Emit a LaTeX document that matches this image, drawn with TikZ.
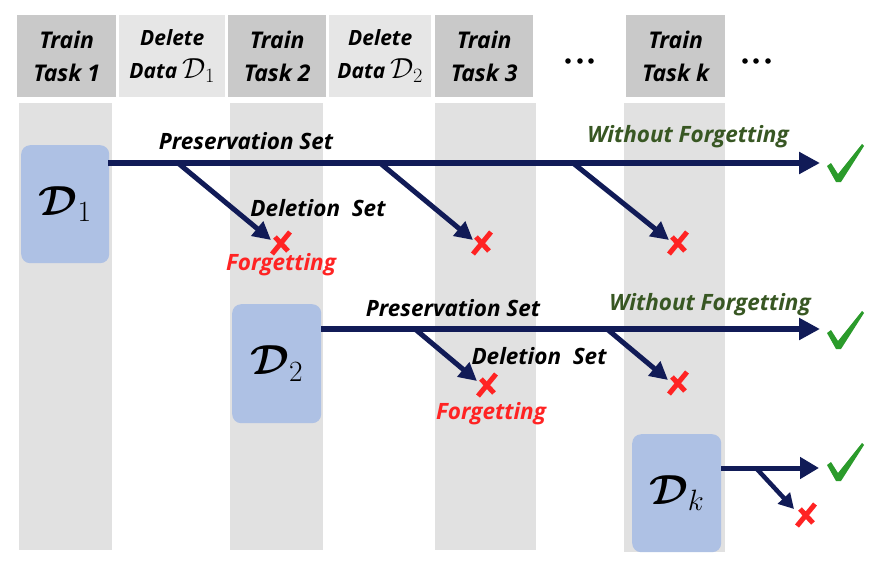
\RequirePackage{fix-cm}
\documentclass[tikz,border=0pt]{standalone}
\usepackage{fontspec}
\setmainfont{Open Sans}
\usetikzlibrary{arrows.meta}
\definecolor{hdark}{HTML}{C9C9C9}
\definecolor{hlight}{HTML}{E6E6E6}
\definecolor{colgray}{HTML}{E1E1E1}
\definecolor{dboxc}{HTML}{AEC1E4}
\definecolor{navy}{HTML}{111B57}
\definecolor{wfgreen}{HTML}{385723}
\definecolor{fred}{HTML}{FF2323}
\definecolor{ckgreen}{HTML}{2B9B2B}
\newcommand\hdrD[1]{{\fontsize{29}{33}\selectfont$\mathcal{D}_{#1}$}}
\newcommand\bigD[1]{$\mbox{\boldmath$\mathcal{D}$}_{#1}$}
\begin{document}
\begin{tikzpicture}[x=1pt,y=-1pt,
  hdrbox/.style={fill=#1, inner sep=0pt, anchor=north west, align=center},
  trainfont/.style={font=\bfseries\itshape\fontsize{23}{33}\selectfont},
  delfont/.style={font=\bfseries\itshape\fontsize{21}{33}\selectfont},
  colbox/.style={fill=colgray, inner sep=0pt, anchor=north west, minimum height=447pt},
  databox/.style={fill=dboxc, rounded corners=9pt, inner sep=0pt, anchor=north west, minimum width=88pt, minimum height=118pt, font=\fontsize{42}{44}\selectfont},
  lbl/.style={font=\bfseries\itshape\fontsize{22.5}{26}\selectfont, inner sep=0pt},
  mainarrow/.style={draw=navy, line width=5.5pt, -{Triangle[length=21pt,width=21pt]}},
  brarrow/.style={draw=navy, line width=5pt, -{Triangle[length=18pt,width=18pt]}},
  smallbr/.style={draw=navy, line width=4.5pt, -{Triangle[length=15pt,width=16pt]}},
  xm/.style={minimum width=34pt, minimum height=34pt, inner sep=0pt,
    path picture={\draw[fred,line width=5pt,shift={(path picture bounding box.center)}]
      (9pt,11pt) -- (-9pt,-11pt) (-6pt,6pt) -- (7pt,-8pt);}},
  ck/.style={minimum width=44pt, minimum height=44pt, inner sep=0pt,
    path picture={\fill[ckgreen,shift={(path picture bounding box.center)}]
      (-18pt,-3pt) -- (-14pt,0pt) -- (-7pt,-11pt) -- (17pt,19pt) -- (19pt,17pt) -- (-4pt,-19pt) -- (-9pt,-19pt) -- cycle;}},
  dots/.style={fill=black}
]
\fill[white] (0,0) rectangle (878,566);
\useasboundingbox (0,0) rectangle (878,566);

% columns
\node[colbox, minimum width=93pt] (c1) at (19,103) {};
\node[colbox, minimum width=93pt] (c2) at (230,103) {};
\node[colbox, minimum width=101pt] (c3) at (435,103) {};
\node[colbox, minimum width=101pt, minimum height=449pt] (c4) at (624,103) {};

% header
\node[hdrbox=hdark, trainfont, minimum width=99pt, minimum height=82pt] (h1) at (17,15) {Train\\Task 1};
\node[hdrbox=hlight, delfont, minimum width=106pt, minimum height=82pt] (h2) at (119,15) {Delete\\Data \hdrD{1}};
\node[hdrbox=hdark, trainfont, minimum width=98pt, minimum height=82pt] (h3) at (228,15) {Train\\Task 2};
\node[hdrbox=hlight, delfont, minimum width=102pt, minimum height=82pt] (h4) at (329,15) {Delete\\Data \hdrD{2}};
\node[hdrbox=hdark, trainfont, minimum width=98pt, minimum height=82pt] (h5) at (435,15) {Train\\Task 3};
\node[hdrbox=hdark, trainfont, minimum width=99pt, minimum height=82pt] (h6) at (626,15) {Train\\Task k};
\foreach \x in {568,580,591,745,756,768} \fill[dots] (\x,61) circle (2.8);

% data boxes
\node[databox] (d1) at (21,145) {\bigD{1}};
\node[databox, minimum width=89pt, minimum height=119pt] (d2) at (232,304) {\bigD{2}};
\node[databox, minimum width=89pt, minimum height=118pt] (dk) at (632,434) {\bigD{k}};

% row 1
\coordinate (a1s) at (108,163);
\coordinate (a1e) at (820,163);
\draw[mainarrow] (a1s) -- (a1e);
\coordinate (b11) at (178,163); \coordinate (t11) at (271,240);
\coordinate (b12) at (380,163); \coordinate (t12) at (473,240);
\coordinate (b13) at (573,163); \coordinate (t13) at (669,240);
\draw[brarrow] (b11) -- (t11);
\draw[brarrow] (b12) -- (t12);
\draw[brarrow] (b13) -- (t13);
\node[xm] (x11) at (281,243) {};
\node[xm] (x12) at (482,243) {};
\node[xm] (x13) at (678,243) {};
\node[ck] (k1) at (845,163) {};
\node[lbl] (p1) at (246,141) {Preservation Set};
\node[lbl, text=wfgreen] (w1) at (688,137) {Without Forgetting};
\node[lbl] (del1) at (318,208) {Deletion\ \ Set};
\node[lbl, text=fred] (f1) at (281,265) {Forgetting};

% row 2
\coordinate (a2s) at (321,329);
\coordinate (a2e) at (820,329);
\draw[mainarrow] (a2s) -- (a2e);
\coordinate (b21) at (415,329); \coordinate (t21) at (477,381);
\coordinate (b22) at (607,329); \coordinate (t22) at (668,380);
\draw[brarrow] (b21) -- (t21);
\draw[brarrow] (b22) -- (t22);
\node[xm] (x21) at (487,385) {};
\node[xm] (x22) at (678,383) {};
\node[ck] (k2) at (845,330) {};
\node[lbl] (p2) at (453,308) {Preservation Set};
\node[lbl, text=wfgreen] (w2) at (710,305) {Without Forgetting};
\node[lbl] (del2) at (539,356) {Deletion\ \ Set};
\node[lbl, text=fred] (f2) at (491,414) {Forgetting};

% row 3
\coordinate (a3s) at (721,468);
\coordinate (a3e) at (819,468);
\draw[draw=navy, line width=5pt, -{Triangle[length=19pt,width=21pt]}] (a3s) -- (a3e);
\coordinate (b31) at (756,468); \coordinate (t31) at (794,509);
\draw[smallbr] (b31) -- (t31);
\node[xm] (x31) at (806,515) {};
\node[ck] (k3) at (845,462) {};
\end{tikzpicture}
\end{document}
